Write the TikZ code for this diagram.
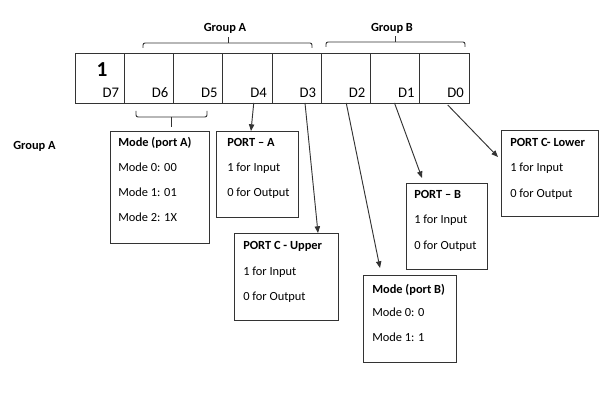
\documentclass[tikz,border=0pt]{standalone}
\usepackage{fontspec}
\setmainfont{Carlito}
\usetikzlibrary{arrows.meta,calc}
\begin{document}
\begin{tikzpicture}[x=0.75pt,y=-0.75pt,
  ln/.style={draw=black!80,line width=0.7pt},
  cell/.style={ln,anchor=north west,minimum width=36.94pt,minimum height=37.5pt,inner sep=0pt,outer sep=0pt},
  dlab/.style={anchor=base east,inner sep=0pt,font=\fontsize{11}{13}\selectfont},
  box/.style={ln,anchor=north west,inner sep=0pt,outer sep=0pt},
  ttl/.style={anchor=west,inner sep=0pt,text height=7pt,text depth=1pt,font=\fontsize{9.3}{11}\selectfont\bfseries},
  txt/.style={anchor=west,inner sep=0pt,text height=7pt,text depth=1pt,font=\fontsize{9.3}{11}\selectfont},
  grp/.style={anchor=center,inner sep=0pt,text height=7pt,text depth=1pt,font=\fontsize{9.3}{11}\selectfont\bfseries},
  arr/.style={ln,-{Triangle[length=5pt,width=4pt]}}]
\useasboundingbox (0,0) rectangle (615,402);
\fill[white] (0,0) rectangle (615,402);
% register cells
\foreach \i/\n in {0/7,1/6,2/5,3/4,4/3,5/2,6/1,7/0}{
  \node[cell] (c\n) at ({75+49.25*\i},53) {};
  \node[dlab] (d\n) at ($(c\n.south east)+(-5,-5)$) {D\n};
}
\node[anchor=center,inner sep=0pt,font=\fontsize{16}{18}\selectfont\bfseries] (one) at (102,70) {1};
% group labels and braces
\node[grp] (ga) at (225,28) {Group A};
\node[grp] (gb) at (392,28) {Group B};
\node[anchor=west,inner sep=0pt,text height=7pt,text depth=1pt,font=\fontsize{9.3}{11}\selectfont\bfseries] (gal) at (13,146) {Group A};
\draw[ln,rounded corners=1.5pt] (143,48) -- (143,43) -- (312,43) -- (312,48);
\draw[ln] (228,43) -- (228,37);
\draw[ln,rounded corners=1.5pt] (326,47) -- (326,42) -- (465,42) -- (465,47);
\draw[ln] (395,42) -- (395,36);
\draw[ln,rounded corners=1.5pt] (136,111) -- (136,117) -- (207,117) -- (207,111);
\draw[ln] (171,117) -- (171,127);
% boxes
\node[box,minimum width=74.25pt,minimum height=84pt] (mpa) at (110,131) {};
\node[ttl] (mpa1) at (118,143) {Mode (port A)};
\node[txt] (mpa2) at (118,168) {Mode 0: 00};
\node[txt] (mpa3) at (118,193) {Mode 1: 01};
\node[txt] (mpa4) at (118,218) {Mode 2: 1X};

\node[box,minimum width=61.5pt,minimum height=64.5pt] (pa) at (216,131) {};
\node[ttl] (pa1) at (227,143) {PORT – A};
\node[txt] (pa2) at (227,168) {1 for Input};
\node[txt] (pa3) at (227,193) {0 for Output};

\node[box,minimum width=78pt,minimum height=65.25pt] (pcu) at (234,233) {};
\node[ttl] (pcu1) at (243,246) {PORT C - Upper};
\node[txt] (pcu2) at (243,272) {1 for Input};
\node[txt] (pcu3) at (243,297) {0 for Output};

\node[box,minimum width=69.75pt,minimum height=65.25pt] (mpb) at (363,275) {};
\node[ttl] (mpb1) at (372,290) {Mode (port B)};
\node[txt] (mpb2) at (372,313) {Mode 0: 0};
\node[txt] (mpb3) at (372,338) {Mode 1: 1};

\node[box,minimum width=60.75pt,minimum height=64.5pt] (pb) at (406,183) {};
\node[ttl] (pb1) at (414,195) {PORT – B};
\node[txt] (pb2) at (414,220) {1 for Input};
\node[txt] (pb3) at (414,246) {0 for Output};

\node[box,minimum width=72.75pt,minimum height=64.5pt] (pcl) at (501,130) {};
\node[ttl] (pcl1) at (510,143) {PORT C- Lower};
\node[txt] (pcl2) at (510,168) {1 for Input};
\node[txt] (pcl3) at (510,194) {0 for Output};
% arrows
\draw[arr] ($(c4.south west)+(31,0)$) -- ($(pa.north west)+(35,0)$);
\draw[arr] ($(c3.south west)+(33,0)$) -- ($(pcu.north west)+(84,0)$);
\draw[arr] ($(c2.south west)+(25,0)$) -- ($(mpb.north west)+(17,-7)$);
\draw[arr] ($(c1.south west)+(24,0)$) -- ($(pb.north west)+(16,-5)$);
\draw[arr] ($(c0.south west)+(28,2)$) -- ($(pcl.north west)+(-3,27)$);
\end{tikzpicture}
\end{document}
